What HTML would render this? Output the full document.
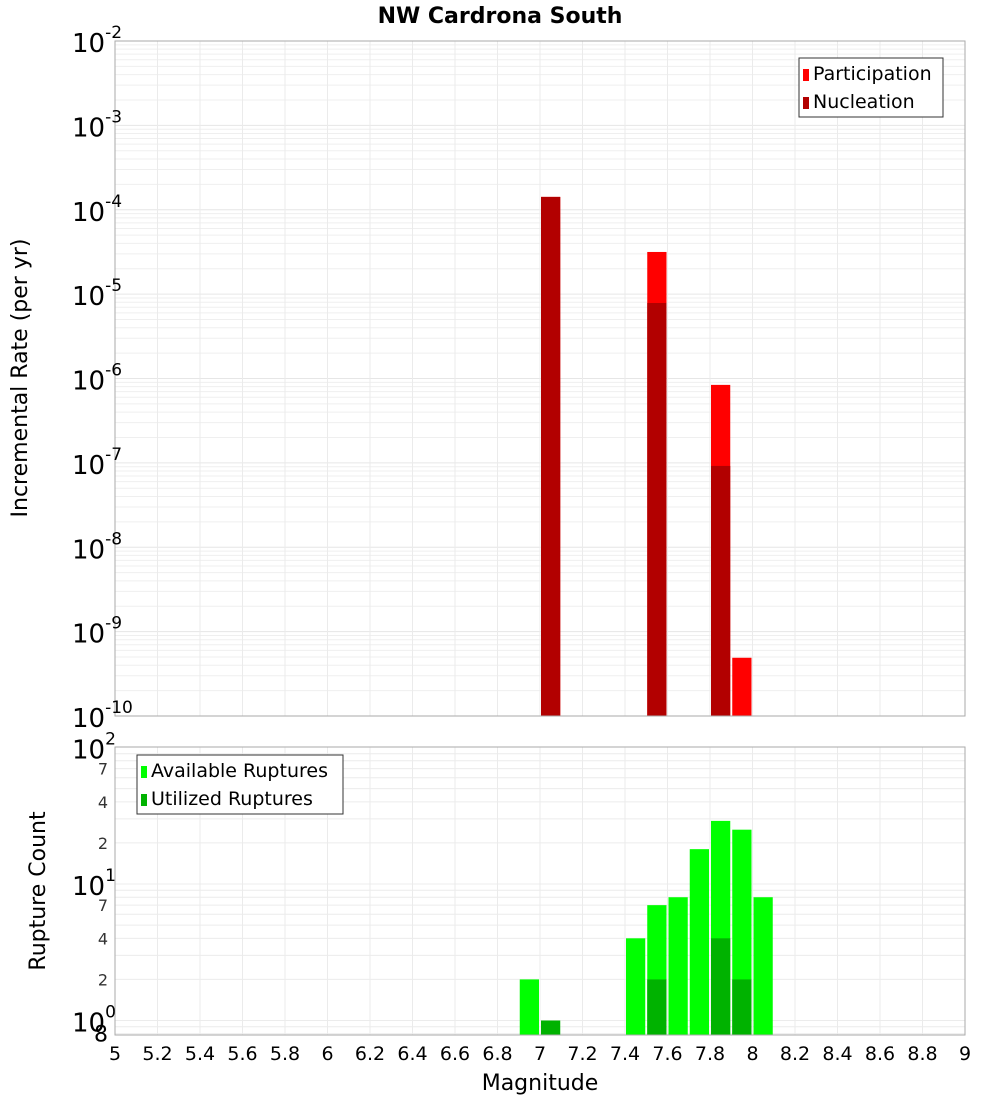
<!DOCTYPE html>
<html><head><meta charset="utf-8"><style>
body{margin:0;background:#fff;}
svg{display:block;font-family:"DejaVu Sans","Liberation Sans",sans-serif;}
</style></head><body>
<svg id="c" width="1000" height="1100">
<text x="500" y="23" text-anchor="middle" font-size="22" font-weight="bold">NW Cardrona South</text>
<text transform="translate(27,378) rotate(-90)" text-anchor="middle" font-size="22">Incremental Rate (per yr)</text>
<text transform="translate(45,891) rotate(-90)" text-anchor="middle" font-size="22">Rupture Count</text>
<text x="540" y="1090" text-anchor="middle" font-size="22">Magnitude</text>
</svg>
<script>
const mags=[7.05,7.55,7.85,7.95];
const participation=[1.42e-4,3.16e-5,8.4e-7,4.9e-10];
const nucleation=[1.42e-4,7.85e-6,9.2e-8,0];
const countMags=[6.95,7.05,7.45,7.55,7.65,7.75,7.85,7.95,8.05];
const available=[2,0,4,7,8,18,29,25,8];
const utilized=[0,1,0,2,0,0,4,2,0];
const xTicks=["5","5.2","5.4","5.6","5.8","6","6.2","6.4","6.6","6.8","7","7.2","7.4","7.6","7.8","8","8.2","8.4","8.6","8.8","9"];
const topExps=[-2,-3,-4,-5,-6,-7,-8,-9,-10];
const botMinor=[["7",70],["4",40],["2",20],["7",7],["4",4],["2",2]];

const svg=document.getElementById('c');
const NS='http://www.w3.org/2000/svg';
function mk(tag,a,p){const e=document.createElementNS(NS,tag);for(const k in a)e.setAttribute(k,a[k]);(p||svg).appendChild(e);return e;}
const X0=115,X1=965;
const xs=m=>X0+(m-5)/4*(X1-X0);
const T0=41,T1=716;
const yt=v=>T0+(-2-Math.log10(v))/8*(T1-T0);
const B0=747,B1=1035;
const yb=v=>884-Math.log10(v/10)*136.5;

// top grid
const gT=mk('g',{});

for(let d=-10;d<-2;d++)for(let k=1;k<10;k++){const y=yt(k*Math.pow(10,d));if(y<T0||y>T1)continue;mk('line',{x1:X0,x2:X1,y1:y,y2:y,stroke:k==1?'#e6e6e6':'#efefef','stroke-width':1},gT);}
for(let i=1;i<20;i++){const x=xs(5+i*0.2);mk('line',{x1:x,x2:x,y1:T0,y2:T1,stroke:'#ebebeb'},gT);}
// bottom grid
const gB=mk('g',{});

for(let d=-1;d<2;d++)for(let k=1;k<10;k++){const y=yb(k*Math.pow(10,d));if(y<B0||y>B1)continue;mk('line',{x1:X0,x2:X1,y1:y,y2:y,stroke:'#ececec'},gB);}
for(let i=1;i<20;i++){const x=xs(5+i*0.2);mk('line',{x1:x,x2:x,y1:B0,y2:B1,stroke:'#ebebeb'},gB);}

const bw=xs(5.1)-xs(5)-2;
// top bars
mags.forEach((m,i)=>{
 const x=xs(m)-bw/2;
 if(participation[i]>0){const r=mk('rect',{x:x,y:yt(participation[i]),width:bw,height:T1-yt(participation[i]),fill:'#ff0000'});
 }
 if(nucleation[i]>0){const r=mk('rect',{x:x,y:yt(nucleation[i]),width:bw,height:T1-yt(nucleation[i]),fill:'#b20000'});
 }
});
// bottom bars
countMags.forEach((m,i)=>{
 const x=xs(m)-bw/2;
 if(available[i]>0){const r=mk('rect',{x:x,y:yb(available[i]),width:bw,height:B1-yb(available[i]),fill:'#00ff00'});
 }
 if(utilized[i]>0){const r=mk('rect',{x:x,y:yb(utilized[i]),width:bw,height:B1-yb(utilized[i]),fill:'#00b200'});
 }
});
// frames
let f=mk('rect',{x:X0,y:T0,width:X1-X0,height:T1-T0,fill:'none',stroke:'#aaa'});

f=mk('rect',{x:X0,y:B0,width:X1-X0,height:B1-B0,fill:'none',stroke:'#aaa'});


// top y ticks
topExps.forEach(e=>{
 const y=yt(Math.pow(10,e));
 const t=mk('text',{x:72,y:y+11,'font-size':26});
 
 t.textContent='10';
 const s=mk('tspan',{dy:-14,'font-size':17},t);s.textContent=String(e);
});
// bottom y ticks
[[100,'2'],[10,'1'],[1,'0']].forEach(([v,e])=>{
 const y=yb(v);
 const t=mk('text',{x:72,y:y+11,'font-size':26});
 
 t.textContent='10';
 const s=mk('tspan',{dy:-14,'font-size':17},t);s.textContent=e;
});
botMinor.forEach(([l,v])=>{
 const t=mk('text',{x:108,y:yb(v)+6,'font-size':16,'text-anchor':'end',fill:'#333'});
 
 t.textContent=l;
});
let t8=mk('text',{x:108,y:yb(0.8)+8,'font-size':22,'text-anchor':'end'});

t8.textContent='8';
// x ticks
xTicks.forEach(l=>{
 const t=mk('text',{x:xs(parseFloat(l)),y:1060,'font-size':19,'text-anchor':'middle'});
 
 t.textContent=l;
});
// legends
function legend(x,y,w,items,name){
 const g=mk('g',{});
 
 mk('rect',{x:x,y:y,width:w,height:59,fill:'#fff',stroke:'#333'},g);
 items.forEach(([c,l],i)=>{
  mk('rect',{x:x+4,y:y+11+i*28,width:6,height:12,fill:c},g);
  const t=mk('text',{x:x+14,y:y+22+i*28,'font-size':19},g);t.textContent=l;
 });
}
legend(799,58,144,[['#ff0000','Participation'],['#b20000','Nucleation']],'top-legend');
legend(137,755,206,[['#00ff00','Available Ruptures'],['#00b200','Utilized Ruptures']],'bottom-legend');
</script>
</body></html>
